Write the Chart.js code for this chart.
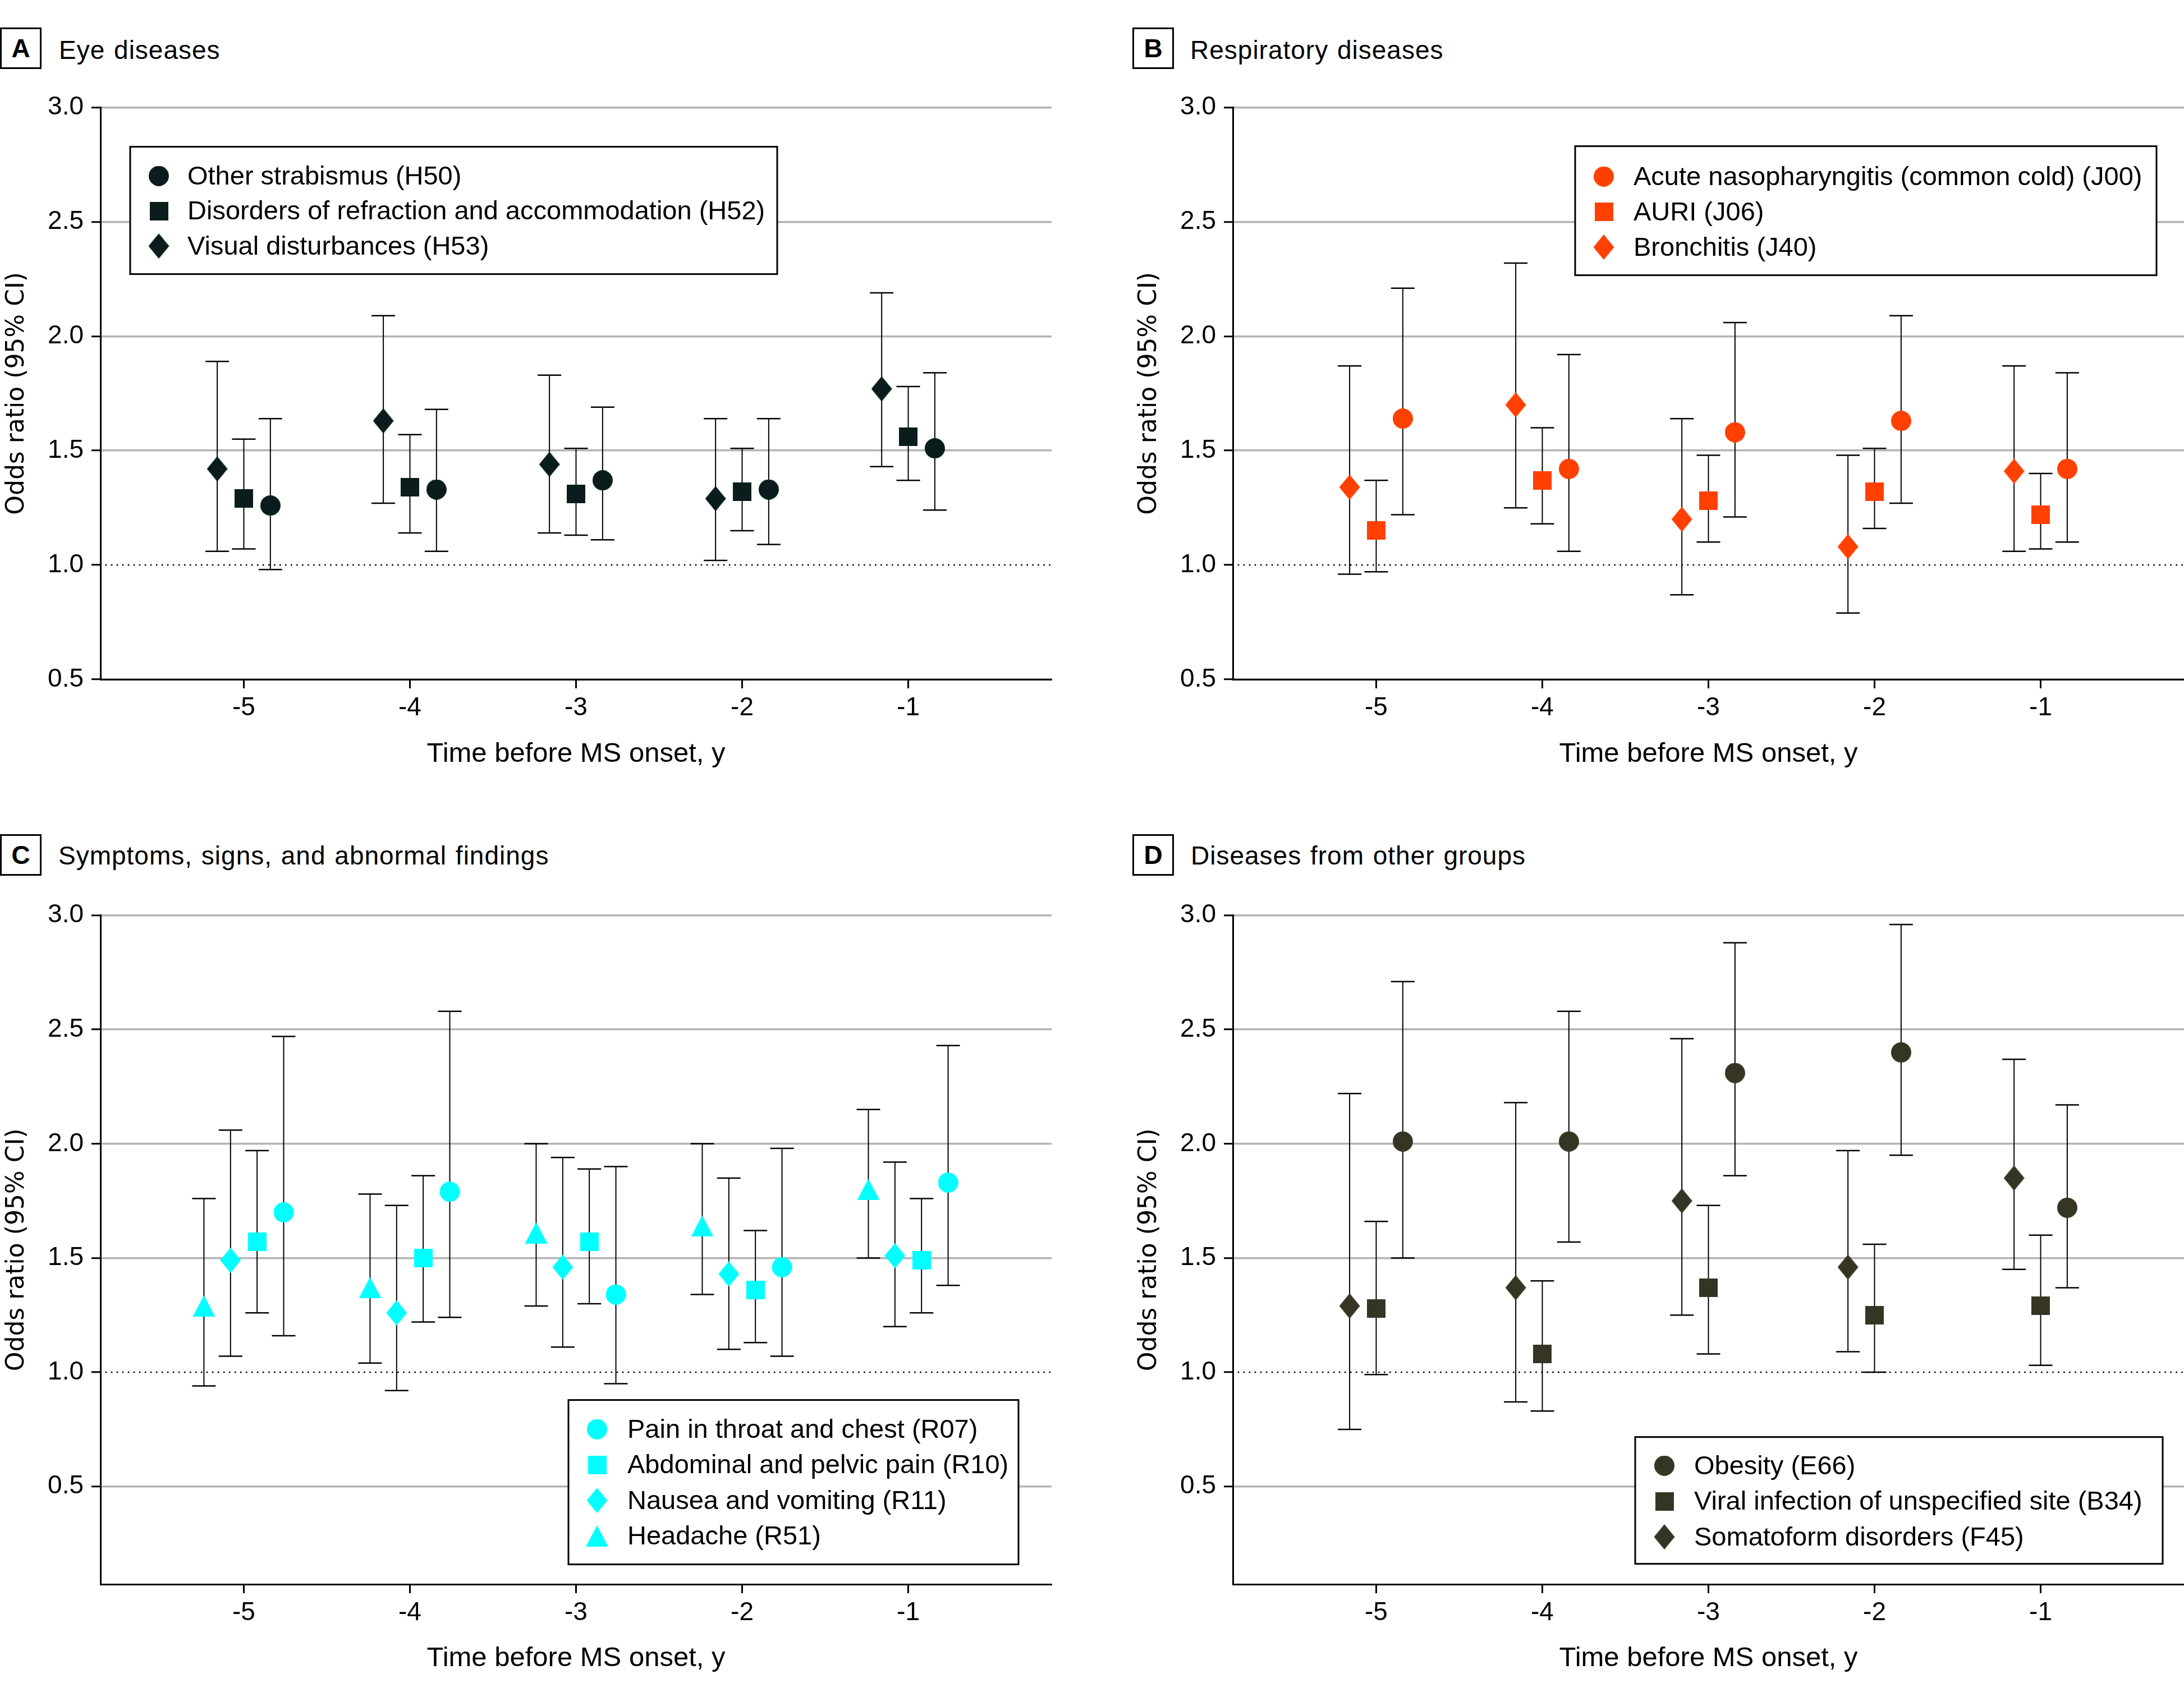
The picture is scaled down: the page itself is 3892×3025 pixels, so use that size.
<!DOCTYPE html>
<html>
<head>
<meta charset="utf-8">
<script src="https://cdn.jsdelivr.net/npm/chart.js@4.4.1/dist/chart.umd.min.js"></script>
<style>
  body { margin: 0; width: 3892px; height: 3025px; background: #fff; position: relative; overflow: hidden;
         font-family: "Liberation Sans", Arial, sans-serif; color: #000; }
  canvas { position: absolute; }
  .tag { position: absolute; width: 74px; height: 74px; border: 3px solid #000; box-sizing: border-box;
         font-weight: bold; font-size: 46px; display: flex; align-items: center; justify-content: center; }
  .title { position: absolute; font-size: 46px; line-height: 1; white-space: nowrap;
           letter-spacing: 1px; word-spacing: 2px; }
</style>
</head>
<body>
<div class="tag" style="left:0px;top:49px">A</div><div class="title" style="left:105px;top:66px">Eye diseases</div>
<div class="tag" style="left:2018px;top:49px">B</div><div class="title" style="left:2121px;top:66px">Respiratory diseases</div>
<div class="tag" style="left:0px;top:1487px">C</div><div class="title" style="left:104px;top:1502px">Symptoms, signs, and abnormal findings</div>
<div class="tag" style="left:2018px;top:1487px">D</div><div class="title" style="left:2122px;top:1502px">Diseases from other groups</div>
<script>
// x categories and y ticks
const years = [-5, -4, -3, -2, -1];
const yTickValues = [0.5, 1.0, 1.5, 2.0, 2.5, 3.0];

// A - eye diseases
const h50 = [1.26, 1.33, 1.37, 1.33, 1.51];
const h50Lo = [0.98, 1.06, 1.11, 1.09, 1.24];
const h50Hi = [1.64, 1.68, 1.69, 1.64, 1.84];
const h52 = [1.29, 1.34, 1.31, 1.32, 1.56];
const h52Lo = [1.07, 1.14, 1.13, 1.15, 1.37];
const h52Hi = [1.55, 1.57, 1.51, 1.51, 1.78];
const h53 = [1.42, 1.63, 1.44, 1.29, 1.77];
const h53Lo = [1.06, 1.27, 1.14, 1.02, 1.43];
const h53Hi = [1.89, 2.09, 1.83, 1.64, 2.19];

// B - respiratory diseases
const j00 = [1.64, 1.42, 1.58, 1.63, 1.42];
const j00Lo = [1.22, 1.06, 1.21, 1.27, 1.10];
const j00Hi = [2.21, 1.92, 2.06, 2.09, 1.84];
const j06 = [1.15, 1.37, 1.28, 1.32, 1.22];
const j06Lo = [0.97, 1.18, 1.10, 1.16, 1.07];
const j06Hi = [1.37, 1.60, 1.48, 1.51, 1.40];
const j40 = [1.34, 1.70, 1.20, 1.08, 1.41];
const j40Lo = [0.96, 1.25, 0.87, 0.79, 1.06];
const j40Hi = [1.87, 2.32, 1.64, 1.48, 1.87];

// C - symptoms, signs
const r07 = [1.70, 1.79, 1.34, 1.46, 1.83];
const r07Lo = [1.16, 1.24, 0.95, 1.07, 1.38];
const r07Hi = [2.47, 2.58, 1.90, 1.98, 2.43];
const r10 = [1.57, 1.50, 1.57, 1.36, 1.49];
const r10Lo = [1.26, 1.22, 1.30, 1.13, 1.26];
const r10Hi = [1.97, 1.86, 1.89, 1.62, 1.76];
const r11 = [1.49, 1.26, 1.46, 1.43, 1.51];
const r11Lo = [1.07, 0.92, 1.11, 1.10, 1.20];
const r11Hi = [2.06, 1.73, 1.94, 1.85, 1.92];
const r51 = [1.29, 1.37, 1.61, 1.64, 1.80];
const r51Lo = [0.94, 1.04, 1.29, 1.34, 1.50];
const r51Hi = [1.76, 1.78, 2.00, 2.00, 2.15];

// D - other groups
const e66 = [2.01, 2.01, 2.31, 2.40, 1.72];
const e66Lo = [1.50, 1.57, 1.86, 1.95, 1.37];
const e66Hi = [2.71, 2.58, 2.88, 2.96, 2.17];
const b34 = [1.28, 1.08, 1.37, 1.25, 1.29];
const b34Lo = [0.99, 0.83, 1.08, 1.00, 1.03];
const b34Hi = [1.66, 1.40, 1.73, 1.56, 1.60];
const f45 = [1.29, 1.37, 1.75, 1.46, 1.85];
const f45Lo = [0.75, 0.87, 1.25, 1.09, 1.45];
const f45Hi = [2.22, 2.18, 2.46, 1.97, 2.37];

const xMin = -5.863, xMax = -0.137;
const FONT = "'Liberation Sans', Arial, sans-serif";

// marker images
function marker(shape, color) {
  const sizes = { circle: [36, 36], square: [33, 33], diamond: [37, 45], triangle: [40, 38] };
  const [w, h] = sizes[shape];
  const c = document.createElement('canvas');
  c.width = w; c.height = h;
  const g = c.getContext('2d');
  g.fillStyle = color;
  g.beginPath();
  if (shape === 'circle') g.arc(w / 2, h / 2, w / 2, 0, Math.PI * 2);
  else if (shape === 'square') g.rect(0, 0, w, h);
  else if (shape === 'diamond') { g.moveTo(w / 2, 0); g.lineTo(w, h / 2); g.lineTo(w / 2, h); g.lineTo(0, h / 2); g.closePath(); }
  else { g.moveTo(w / 2, 0); g.lineTo(w, h); g.lineTo(0, h); g.closePath(); }
  g.fill();
  return c;
}

function seriesSets(s) {
  const xs = years.map(y => y + s.off);
  const img = marker(s.shape, s.color);
  return [
    { type: 'scatter', label: s.label, data: xs.map((x, i) => ({ x: x, y: s.vals[i] })),
      pointStyle: img, pointRadius: 18, order: 1 },
    { type: 'line', label: s.label + ' CI', showLine: true, spanGaps: false,
      data: xs.flatMap((x, i) => [{ x: x, y: s.lo[i] }, { x: x, y: s.hi[i] }, { x: x, y: null }]),
      borderColor: '#000', borderWidth: 2, pointStyle: 'line', pointRadius: 21,
      pointBorderWidth: 2.5, pointBorderColor: '#000', order: 2 }
  ];
}

function legendPlugin(p) {
  return {
    id: 'boxLegend',
    afterDatasetsDraw(chart) {
      const L = p.legend;
      const { ctx, chartArea } = chart;
      const x0 = chartArea.left + L.dx, y0 = chartArea.top + L.dy;
      ctx.save();
      ctx.fillStyle = '#fff';
      ctx.fillRect(x0, y0, L.w, L.h);
      ctx.lineWidth = 3;
      ctx.strokeStyle = '#000';
      ctx.strokeRect(x0, y0, L.w, L.h);
      ctx.font = '47px ' + FONT;
      ctx.textBaseline = 'middle';
      p.legendOrder.forEach((k, i) => {
        const s = p.series[k];
        const y = y0 + L.first + i * L.gap;
        const img = marker(s.shape, s.color);
        ctx.drawImage(img, x0 + L.markX - img.width / 2, y - img.height / 2);
        ctx.fillStyle = '#000';
        ctx.fillText(s.label, x0 + L.textX, y + 2);
      });
      ctx.restore();
    }
  };
}

const off3 = [-0.16, 0, 0.16];
const off4 = [-0.24, -0.08, 0.08, 0.24];

const panels = [
  { left: 0, top: 150, width: 1946, height: 1228, padRight: 72, yMin: 0.5, xAxisH: 167,
    legend: { dx: 53, dy: 70, w: 1153, h: 227, first: 52, gap: 62.5, markX: 51, textX: 102 },
    legendOrder: [2, 1, 0],
    series: [
      { label: 'Visual disturbances (H53)', shape: 'diamond', color: '#0a1c1c', off: off3[0], vals: h53, lo: h53Lo, hi: h53Hi },
      { label: 'Disorders of refraction and accommodation (H52)', shape: 'square', color: '#0a1c1c', off: off3[1], vals: h52, lo: h52Lo, hi: h52Hi },
      { label: 'Other strabismus (H50)', shape: 'circle', color: '#0a1c1c', off: off3[2], vals: h50, lo: h50Lo, hi: h50Hi }
    ] },
  { left: 2018, top: 150, width: 1902, height: 1228, padRight: 28, yMin: 0.5, xAxisH: 167,
    legend: { dx: 610, dy: 69, w: 1036, h: 230, first: 54, gap: 63, markX: 51, textX: 104 },
    legendOrder: [2, 1, 0],
    series: [
      { label: 'Bronchitis (J40)', shape: 'diamond', color: '#ff4000', off: off3[0], vals: j40, lo: j40Lo, hi: j40Hi },
      { label: 'AURI (J06)', shape: 'square', color: '#ff4000', off: off3[1], vals: j06, lo: j06Lo, hi: j06Hi },
      { label: 'Acute nasopharyngitis (common cold) (J00)', shape: 'circle', color: '#ff4000', off: off3[2], vals: j00, lo: j00Lo, hi: j00Hi }
    ] },
  { left: 0, top: 1590, width: 1946, height: 1400, padRight: 72, yMin: 0.072, xAxisH: 166,
    legend: { dx: 834, dy: 864, w: 802, h: 293, first: 52, gap: 63.5, markX: 51, textX: 105 },
    legendOrder: [3, 2, 1, 0],
    series: [
      { label: 'Headache (R51)', shape: 'triangle', color: '#00ffff', off: off4[0], vals: r51, lo: r51Lo, hi: r51Hi },
      { label: 'Nausea and vomiting (R11)', shape: 'diamond', color: '#00ffff', off: off4[1], vals: r11, lo: r11Lo, hi: r11Hi },
      { label: 'Abdominal and pelvic pain (R10)', shape: 'square', color: '#00ffff', off: off4[2], vals: r10, lo: r10Lo, hi: r10Hi },
      { label: 'Pain in throat and chest (R07)', shape: 'circle', color: '#00ffff', off: off4[3], vals: r07, lo: r07Lo, hi: r07Hi }
    ] },
  { left: 2018, top: 1590, width: 1902, height: 1400, padRight: 28, yMin: 0.072, xAxisH: 166,
    legend: { dx: 717, dy: 930, w: 940, h: 226, first: 51, gap: 63.5, markX: 52, textX: 105 },
    legendOrder: [2, 1, 0],
    series: [
      { label: 'Somatoform disorders (F45)', shape: 'diamond', color: '#363524', off: off3[0], vals: f45, lo: f45Lo, hi: f45Hi },
      { label: 'Viral infection of unspecified site (B34)', shape: 'square', color: '#363524', off: off3[1], vals: b34, lo: b34Lo, hi: b34Hi },
      { label: 'Obesity (E66)', shape: 'circle', color: '#363524', off: off3[2], vals: e66, lo: e66Lo, hi: e66Hi }
    ] }
];

function makeChart(p) {
  const canvas = document.createElement('canvas');
  canvas.width = p.width;
  canvas.height = p.height;
  canvas.style.left = p.left + 'px';
  canvas.style.top = p.top + 'px';
  document.body.appendChild(canvas);

  // dotted reference line at OR = 1
  const datasets = [{
    type: 'line', label: 'ref', data: [{ x: xMin, y: 1 }, { x: xMax, y: 1 }],
    borderColor: '#000', borderWidth: 3, borderDash: [0.01, 10], borderCapStyle: 'round',
    pointRadius: 0, order: 3
  }];
  p.series.forEach(s => datasets.push(...seriesSets(s)));

  new Chart(canvas, {
    type: 'scatter',
    data: { datasets: datasets },
    plugins: [legendPlugin(p)],
    options: {
      responsive: false,
      animation: false,
      events: [],
      layout: { padding: { top: 41, right: p.padRight, left: 0, bottom: 0 } },
      plugins: { legend: { display: false }, tooltip: { enabled: false } },
      scales: {
        x: {
          type: 'linear', min: xMin, max: xMax,
          afterFit(s) { s.height = p.xAxisH; },
          afterBuildTicks(s) { s.ticks = years.map(v => ({ value: v })); },
          ticks: { font: { family: FONT, size: 46 }, color: '#000', padding: 8 },
          grid: { drawOnChartArea: false, drawTicks: true, tickLength: 16, tickWidth: 3, tickColor: '#000' },
          border: { color: '#000', width: 3 },
          title: { display: true, text: 'Time before MS onset, y', color: '#000',
                   font: { family: FONT, size: 49 }, padding: { top: 4, bottom: 4 } }
        },
        y: {
          type: 'linear', min: p.yMin, max: 3,
          afterFit(s) { s.width = 179; },
          afterBuildTicks(s) { s.ticks = yTickValues.map(v => ({ value: v })); },
          ticks: { font: { family: FONT, size: 46 }, color: '#000', padding: 14,
                   callback: v => Number(v).toFixed(1) },
          grid: { color: c => (c.tick && c.tick.value === 1) ? 'rgba(0,0,0,0)' : '#b3b3b3',
                  lineWidth: 3.5, drawTicks: true, tickLength: 16, tickWidth: 3, tickColor: '#000' },
          border: { color: '#000', width: 3 },
          title: { display: true, text: 'Odds ratio (95% CI)', color: '#000',
                   font: { family: 'DejaVu Sans', size: 44 }, padding: { top: 4, bottom: 4 } }
        }
      }
    }
  });
}

panels.forEach(makeChart);
</script>
</body>
</html>
